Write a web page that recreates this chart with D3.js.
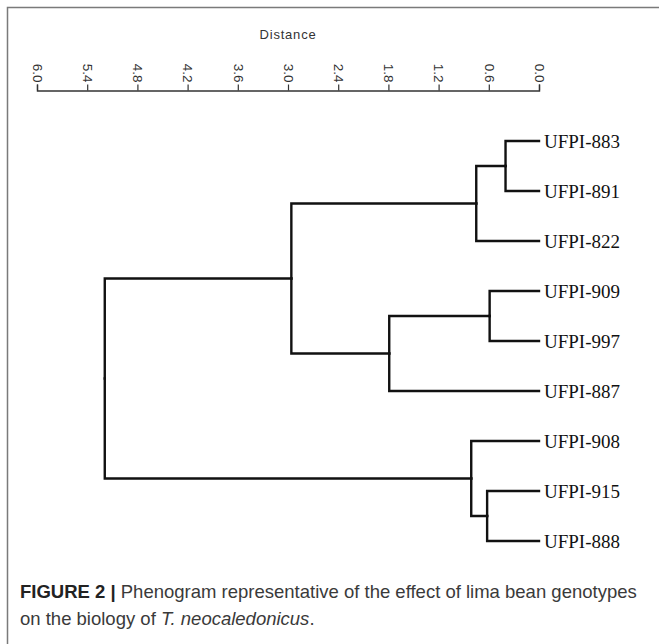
<!DOCTYPE html>
<html>
<head>
<meta charset="utf-8">
<script src="https://cdn.jsdelivr.net/npm/d3@7"></script>
<style>
  body { margin: 0; background: #fff; }
  svg { display: block; }
</style>
</head>
<body>
<script>
var width = 659,
    height = 644;

// leaf order, top to bottom
var leaves = ["UFPI-883", "UFPI-891", "UFPI-822", "UFPI-909", "UFPI-997",
              "UFPI-887", "UFPI-908", "UFPI-915", "UFPI-888"];

// [left child, right child, merge distance, cluster name]
var merges = [
    ["UFPI-883", "UFPI-891", 0.40, "c1"],
    ["c1", "UFPI-822", 0.75, "c2"],
    ["UFPI-909", "UFPI-997", 0.59, "c3"],
    ["c3", "UFPI-887", 1.79, "c4"],
    ["c2", "c4", 2.96, "c5"],
    ["UFPI-915", "UFPI-888", 0.62, "c6"],
    ["UFPI-908", "c6", 0.81, "c7"],
    ["c5", "c7", 5.19, "root"]
];

var tickValues = [6.0, 5.4, 4.8, 4.2, 3.6, 3.0, 2.4, 1.8, 1.2, 0.6, 0.0];
var axisTitle = "Distance";

var svg = d3.select("body")
    .append("svg")
        .attr("width", width)
        .attr("height", height);

// frame (only top and left edges fall inside the picture)
svg.append("path")
    .attr("d", "M7.5," + height + "V7.5H" + width)
    .attr("fill", "none")
    .attr("stroke", "#7a7a7a")
    .attr("stroke-width", 1.5);

var x = d3.scaleLinear()
    .domain([6.0, 0.0])
    .range([37, 539]);

var y = d3.scalePoint()
    .domain(leaves)
    .range([141, 541]);

// axis on top
var axis = svg.append("g")
    .attr("transform", "translate(0,90.5)")
    .call(d3.axisTop(x)
        .tickValues(tickValues)
        .tickFormat(d3.format(".1f"))
        .tickSizeOuter(0)
        .tickSize(6));

axis.attr("font-family", null).attr("font-size", null);
axis.select(".domain").attr("stroke", "#333").attr("stroke-width", 1.4);
axis.selectAll(".tick line").attr("stroke", "#333").attr("stroke-width", 1.2);
axis.selectAll(".tick text")
    .attr("transform", "rotate(90)")
    .attr("x", -8)
    .attr("y", 0)
    .attr("dy", "0.35em")
    .style("text-anchor", "end")
    .style("font-family", "'Liberation Sans', Arial, sans-serif")
    .style("font-size", "13.5px")
    .attr("fill", "#333");

svg.append("text")
    .attr("x", (x(6) + x(0)) / 2)
    .attr("y", 39)
    .attr("text-anchor", "middle")
    .style("font-family", "'Liberation Sans', Arial, sans-serif")
    .style("font-size", "13px")
    .style("letter-spacing", "0.8px")
    .attr("fill", "#333")
    .text(axisTitle);

// build the tree from the merge list
var nodes = {};
leaves.forEach(function(name) {
    nodes[name] = {name: name, dist: 0};
});
merges.forEach(function(m) {
    nodes[m[3]] = {name: m[3], dist: m[2], children: [nodes[m[0]], nodes[m[1]]]};
});

var root = d3.hierarchy(nodes["root"]);
root.eachAfter(function(n) {
    n.py = n.children ? d3.mean(n.children, function(c) { return c.py; }) : y(n.data.name);
});

svg.append("g")
    .selectAll("path")
    .data(root.links())
    .enter()
    .append("path")
        .attr("d", function(l) {
            return "M" + x(l.source.data.dist) + "," + l.source.py +
                   "V" + l.target.py + "H" + x(l.target.data.dist);
        })
        .attr("fill", "none")
        .attr("stroke", "#111")
        .attr("stroke-width", 2.4)
        .attr("stroke-linecap", "square");

svg.append("g")
    .selectAll("text")
    .data(root.leaves())
    .enter()
    .append("text")
        .attr("x", function(d) { return x(d.data.dist) + 5; })
        .attr("y", function(d) { return d.py; })
        .attr("dy", "0.35em")
        .style("font-family", "'Liberation Serif', 'Times New Roman', serif")
        .style("font-size", "19px")
        .attr("fill", "#111")
        .text(function(d) { return d.data.name; });

// caption
var caption = svg.append("g")
    .style("font-family", "'Liberation Sans', Arial, sans-serif")
    .style("font-size", "18.5px")
    .attr("fill", "#3a3a3a");

var line1 = caption.append("text").attr("x", 20).attr("y", 598);
line1.append("tspan").style("font-weight", "bold").attr("fill", "#222").text("FIGURE 2 | ");
line1.append("tspan").text("Phenogram representative of the effect of lima bean genotypes");

var line2 = caption.append("text").attr("x", 20).attr("y", 625);
line2.append("tspan").text("on the biology of ");
line2.append("tspan").style("font-style", "italic").text("T. neocaledonicus");
line2.append("tspan").text(".");
</script>
</body>
</html>
